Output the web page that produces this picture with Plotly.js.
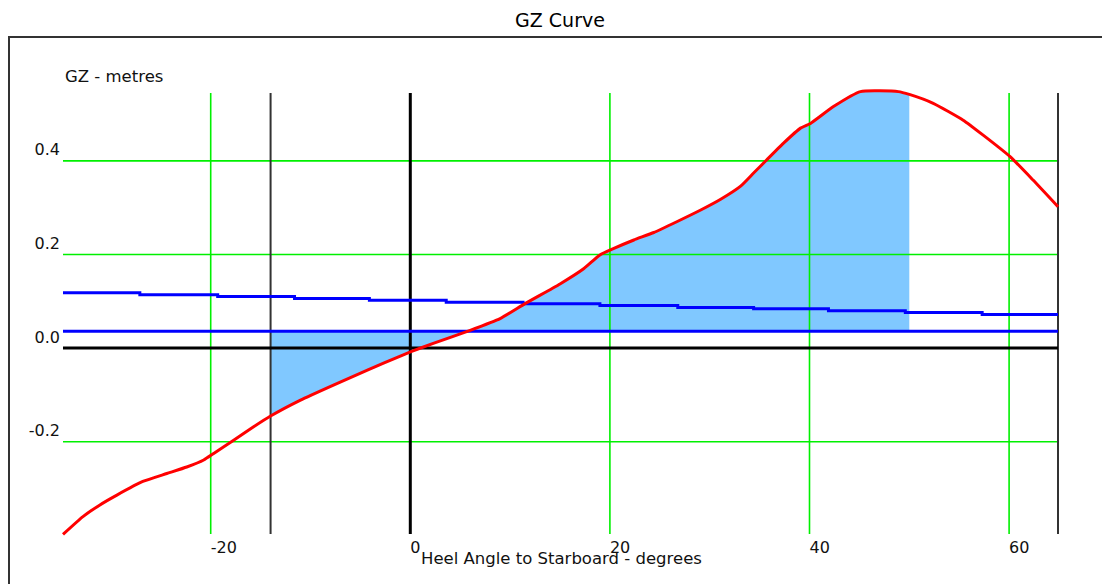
<!DOCTYPE html>
<html>
<head>
<meta charset="utf-8">
<script src="https://cdn.plot.ly/plotly-3.0.1.min.js"></script>
<style>
  html, body { margin: 0; padding: 0; background: #fff; }
  #chart { width: 1102px; height: 584px; }
</style>
</head>
<body>
<div id="chart"></div>
<script>
// ---- data ----
const heelAngle = [-34.8, -32.8, -31.1, -29.4, -26.8, -24.4, -22.4, -20.7, -19.7, -17.7, -15.7, -14.0,
  -11.0, -7.7, -4.3, -1.0, 0, 2.3, 6.0, 9.0, 11.5, 15.0, 17.4, 19.0, 20.4, 22.4, 24.4, 26.7, 29.1,
  31.1, 33.1, 34.4, 35.7, 37.4, 39.1, 40.1, 42.4, 45.1, 48.9, 50.0, 52.4, 55.4, 57.4, 60.1, 62.4, 64.9];
const gz = [-0.398, -0.360, -0.335, -0.314, -0.285, -0.268, -0.254, -0.239, -0.225, -0.197, -0.168, -0.145,
  -0.111, -0.079, -0.047, -0.017, -0.008, 0.010, 0.038, 0.063, 0.095, 0.137, 0.170, 0.199, 0.213, 0.231,
  0.247, 0.270, 0.295, 0.318, 0.346, 0.374, 0.402, 0.438, 0.470, 0.480, 0.516, 0.548, 0.548, 0.542,
  0.523, 0.487, 0.455, 0.409, 0.359, 0.302];

// stepped heeling-arm line (upper blue)
const armAngle = [-34.8, -27.1, -19.3, -11.6, -4.1, 3.6, 11.3, 19.0, 26.8, 34.4, 41.9, 49.6, 57.3, 64.9];
const armValue = [0.118, 0.114, 0.110, 0.106, 0.102, 0.098, 0.095, 0.091, 0.087, 0.084, 0.080, 0.076, 0.072, 0.072];

// constant lower blue line
const lowerArmAngle = [-34.8, 64.9];
const lowerArmValue = [0.036, 0.036];

// shaded area limits (heel angles)
const areaFrom = -14.0;
const areaTo = 50.0;

// axis ticks
const xTicks = [-20, 0, 20, 40, 60];
const xTickText = ['-20', '0', '20', '40', '60'];
const yTicks = [-0.2, 0.0, 0.2, 0.4];
const yTickText = ['-0.2', '0.0', '0.2', '0.4'];

// green grid positions
const xGreen = [-20, 20, 40, 60];
const yGreen = [-0.2, 0.2, 0.4];

// ---- build traces ----
const X0 = -34.8, X1 = 64.9, Y0 = -0.397, Y1 = 0.545;
const traces = [];

// shaded area between GZ curve and lower arm line
const fx = [], fy = [];
heelAngle.forEach((a, i) => { if (a >= areaFrom && a <= areaTo) { fx.push(a); fy.push(gz[i]); } });
fx.push(areaTo, areaFrom);
fy.push(lowerArmValue[0], lowerArmValue[0]);
traces.push({ x: fx, y: fy, type: 'scatter', mode: 'lines', fill: 'toself', fillcolor: '#80C8FF',
  line: { width: 0 }, hoverinfo: 'skip', showlegend: false });

const gridLine = { color: '#00F000', width: 1.6 };
xGreen.forEach(v => traces.push({ x: [v, v], y: [Y0, Y1], type: 'scatter', mode: 'lines', line: gridLine, hoverinfo: 'skip', showlegend: false }));
yGreen.forEach(v => traces.push({ x: [X0, X1], y: [v, v], type: 'scatter', mode: 'lines', line: gridLine, hoverinfo: 'skip', showlegend: false }));

// black lines
traces.push({ x: [areaFrom, areaFrom], y: [Y0, Y1], type: 'scatter', mode: 'lines', line: { color: '#333', width: 2 }, hoverinfo: 'skip', showlegend: false });
traces.push({ x: [X1, X1], y: [Y0, Y1], type: 'scatter', mode: 'lines', line: { color: '#333', width: 2 }, hoverinfo: 'skip', showlegend: false });
traces.push({ x: [0, 0], y: [Y0, Y1], type: 'scatter', mode: 'lines', line: { color: '#000', width: 3 }, hoverinfo: 'skip', showlegend: false });
traces.push({ x: [X0, X1], y: [0, 0], type: 'scatter', mode: 'lines', line: { color: '#000', width: 3 }, hoverinfo: 'skip', showlegend: false });

// blue heeling arm lines
traces.push({ x: armAngle, y: armValue, type: 'scatter', mode: 'lines', line: { color: '#0000FF', width: 3, shape: 'hv' }, name: 'Heeling arm', showlegend: false });
traces.push({ x: lowerArmAngle, y: lowerArmValue, type: 'scatter', mode: 'lines', line: { color: '#0000FF', width: 3 }, name: 'Arm', showlegend: false });

// GZ curve
traces.push({ x: heelAngle, y: gz, type: 'scatter', mode: 'lines', line: { color: '#FF0000', width: 3, shape: 'spline', smoothing: 0.5 }, name: 'GZ', showlegend: false });

const tickFont = { family: 'DejaVu Sans', size: 16, color: '#111' };

const layout = {
  width: 1102, height: 584,
  margin: { l: 61, r: 42, t: 86, b: 44 },
  paper_bgcolor: '#fff', plot_bgcolor: '#fff',
  title: { text: 'GZ Curve', font: { family: 'DejaVu Sans', size: 19, color: '#000' },
    x: 560 / 1102, xanchor: 'center', xref: 'container', y: 1 - 20 / 584, yanchor: 'middle', yref: 'container' },
  xaxis: { range: [-35.0, 65.1], showgrid: false, zeroline: false, showline: false,
    tickmode: 'array', tickvals: xTicks, ticktext: xTickText, ticks: '', ticklabelposition: 'outside right',
    ticklabelstandoff: -4, tickfont: tickFont, fixedrange: true },
  yaxis: { range: [-0.41, 0.56], showgrid: false, zeroline: false, showline: false,
    tickmode: 'array', tickvals: yTicks, ticktext: yTickText, ticks: '', ticklabelposition: 'outside top',
    tickfont: tickFont, fixedrange: true },
  shapes: [
    { type: 'rect', xref: 'paper', yref: 'paper', x0: (9 - 61) / 999, x1: 1.08, y0: -0.2, y1: (540 - 37) / 454,
      line: { color: '#333', width: 2 }, fillcolor: 'rgba(0,0,0,0)', layer: 'below' }
  ],
  annotations: [
    { text: 'GZ - metres', xref: 'paper', yref: 'paper', x: (63 - 61) / 999, y: (540 - 76.5) / 454,
      xanchor: 'left', yanchor: 'middle', showarrow: false, font: { family: 'DejaVu Sans', size: 16.5, color: '#111' } },
    { text: 'Heel Angle to Starboard - degrees', xref: 'paper', yref: 'paper', x: (561.5 - 61) / 999, y: (540 - 558) / 454,
      xanchor: 'center', yanchor: 'middle', showarrow: false, font: { family: 'DejaVu Sans', size: 16.5, color: '#111' } }
  ],
  showlegend: false
};

Plotly.newPlot('chart', traces, layout, { displayModeBar: false, staticPlot: true });
</script>
</body>
</html>
